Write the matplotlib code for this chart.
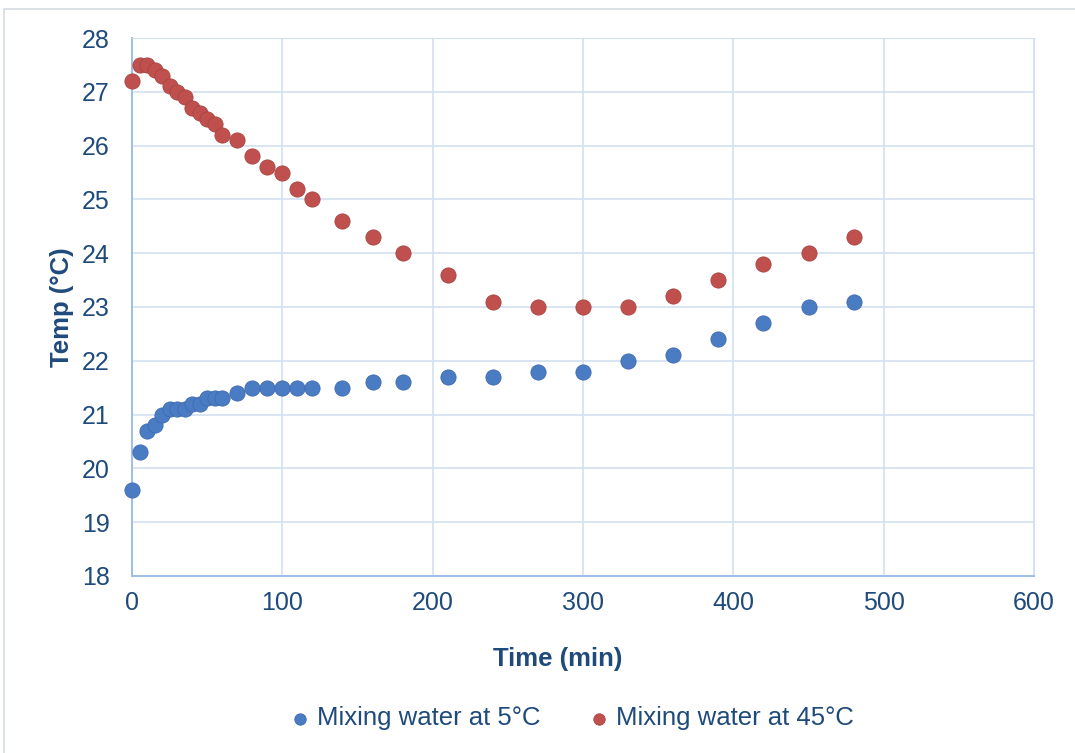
import matplotlib.pyplot as plt
from matplotlib.patches import Rectangle

plt.rcParams['font.family'] = ['Liberation Sans', 'DejaVu Sans']

# sampling times (min)
time = [0, 5, 10, 15, 20, 25, 30, 35, 40, 45, 50, 55, 60, 70, 80, 90, 100,
        110, 120, 140, 160, 180, 210, 240, 270, 300, 330, 360, 390, 420, 450, 480]

# temperature with mixing water at 5 C
temp_5 = [19.6, 20.3, 20.7, 20.8, 21.0, 21.1, 21.1, 21.1, 21.2, 21.2, 21.3, 21.3,
          21.3, 21.4, 21.5, 21.5, 21.5, 21.5, 21.5, 21.5, 21.6, 21.6, 21.7, 21.7,
          21.8, 21.8, 22.0, 22.1, 22.4, 22.7, 23.0, 23.1]

# temperature with mixing water at 45 C
temp_45 = [27.2, 27.5, 27.5, 27.4, 27.3, 27.1, 27.0, 26.9, 26.7, 26.6, 26.5, 26.4,
           26.2, 26.1, 25.8, 25.6, 25.5, 25.2, 25.0, 24.6, 24.3, 24.0, 23.6, 23.1,
           23.0, 23.0, 23.0, 23.2, 23.5, 23.8, 24.0, 24.3]

text_col = '#1F4A7C'
grid_col = '#D3E0F2'

fig = plt.figure(figsize=(10.75, 7.53), dpi=100)
ax = fig.add_axes([0.1228, 0.2351, 0.8391, 0.7144])

# outer chart frame
fig.patches.append(Rectangle((4 / 1075, -0.05), 1.2, 1 - 9 / 753 + 0.05,
                             transform=fig.transFigure, fill=False,
                             edgecolor='#D6DCE4', linewidth=1.2))

ax.scatter(time, temp_5, s=120, color='#4A7CC4', edgecolors='#3F6BAE',
           linewidths=0.6, label='Mixing water at 5°C', zorder=3, clip_on=False)
ax.scatter(time, temp_45, s=120, color='#C0504D', edgecolors='#A84542',
           linewidths=0.6, label='Mixing water at 45°C', zorder=3, clip_on=False)

ax.set_xlim(0, 600)
ax.set_ylim(18, 28)
ax.set_xticks(range(0, 601, 100))
ax.set_yticks(range(18, 29))
ax.grid(True, color=grid_col, linewidth=1.2)
ax.set_axisbelow(True)

for side in ['top', 'right']:
    ax.spines[side].set_color(grid_col)
for side in ['left', 'bottom']:
    ax.spines[side].set_color('#9DBDE8')
    ax.spines[side].set_linewidth(1.4)

ax.tick_params(length=0, labelsize=18, labelcolor=text_col)
ax.tick_params(axis='y', pad=16)
ax.tick_params(axis='x', pad=11)
ax.set_xlabel('Time (min)', fontsize=18.5, fontweight='bold', color=text_col, va='center')
ax.set_ylabel('Temp (°C)', fontsize=18.5, fontweight='bold', color=text_col, va='center')
ax.xaxis.set_label_coords(0.472, -0.154)
ax.yaxis.set_label_coords(-0.078, 0.5)

leg = fig.legend(loc='center', bbox_to_anchor=(0.533, 0.046), ncol=2, frameon=False,
                 fontsize=18.5, handlelength=0.6, handletextpad=0.35,
                 columnspacing=2.0, markerscale=0.75)
for t in leg.get_texts():
    t.set_color(text_col)

fig.savefig('out.png', dpi=100)
